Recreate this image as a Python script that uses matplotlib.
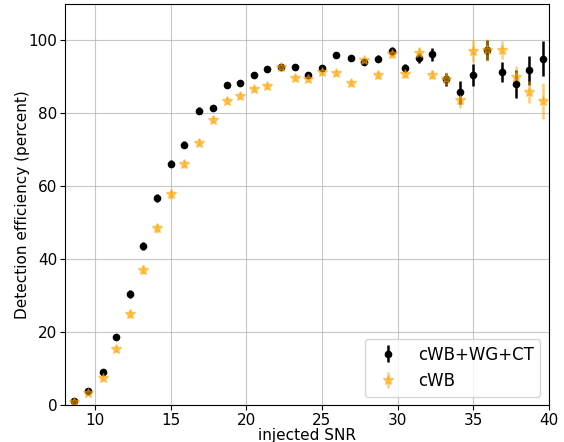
import numpy as np
import matplotlib
matplotlib.use('Agg')
import matplotlib.pyplot as plt

# injected SNR bin centres
snr = [8.6, 9.5, 10.5, 11.4, 12.3, 13.2, 14.1, 15.0, 15.9, 16.9,
       17.8, 18.7, 19.6, 20.5, 21.4, 22.3, 23.2, 24.1, 25.0, 25.9,
       26.9, 27.8, 28.7, 29.6, 30.5, 31.4, 32.3, 33.2, 34.1, 35.0,
       35.9, 36.9, 37.8, 38.7, 39.6]

# cWB+WG+CT efficiency (percent) and errors
eff_full = [1.1, 3.8, 9.1, 18.6, 30.4, 43.6, 56.7, 66.2, 71.4, 80.7,
            81.5, 87.9, 88.2, 90.4, 92.2, 92.8, 92.6, 90.4, 92.5, 96.0,
            95.2, 94.0, 95.0, 97.1, 92.4, 95.1, 96.2, 89.3, 85.8, 90.4,
            97.3, 91.3, 88.1, 91.8, 95.0]
err_full = [0.3, 0.5, 0.7, 0.9, 1.0, 1.1, 1.1, 1.0, 1.0, 0.9,
            0.9, 0.8, 0.8, 0.8, 0.7, 0.7, 0.7, 0.8, 0.8, 0.5,
            0.8, 0.7, 1.0, 1.1, 1.1, 1.4, 1.8, 1.8, 3.2, 3.0,
            2.7, 2.8, 3.8, 3.9, 4.8]

# cWB efficiency (percent) and errors
eff_cwb = [0.8, 3.2, 7.3, 15.3, 25.0, 37.1, 48.4, 57.8, 66.0, 71.9,
           78.3, 83.5, 84.7, 86.7, 87.4, 92.7, 89.7, 89.5, 91.2, 91.0,
           88.3, 94.5, 90.5, 96.3, 90.7, 96.6, 90.6, 89.5, 83.6, 97.1,
           97.3, 97.3, 90.0, 85.8, 83.3]
err_cwb = [0.3, 0.5, 0.7, 0.9, 1.1, 1.2, 1.2, 1.2, 1.1, 1.0,
           0.9, 0.9, 0.9, 0.8, 0.8, 0.7, 0.8, 0.8, 0.8, 0.8,
           0.9, 0.7, 1.0, 1.0, 1.1, 1.5, 1.2, 1.8, 2.2, 2.9,
           3.0, 2.5, 3.1, 3.1, 4.9]

fig = plt.figure(figsize=(5.64, 4.42), dpi=100)
ax = fig.add_axes([0.115, 0.084, 0.858, 0.907])

ax.errorbar(snr, eff_full, yerr=err_full, fmt='o', color='black',
            markersize=4.5, elinewidth=1.8, label='cWB+WG+CT')
ax.errorbar(snr, eff_cwb, yerr=err_cwb, fmt='*', color='orange', alpha=0.55,
            markersize=7.5, elinewidth=1.8, label='cWB')

ax.set_xlim(8, 40)
ax.set_ylim(0, 110)
ax.set_xticks([10, 15, 20, 25, 30, 35, 40])
ax.set_yticks([0, 20, 40, 60, 80, 100])
ax.tick_params(labelsize=11, pad=2)
ax.grid(True, color='#b0b0b0', alpha=0.7)
ax.set_xlabel('injected SNR', fontsize=11, labelpad=0)
ax.set_ylabel('Detection efficiency (percent)', fontsize=11, labelpad=-1)
ax.legend(loc='lower right', fontsize=12)

fig.savefig('out.png', dpi=100)
